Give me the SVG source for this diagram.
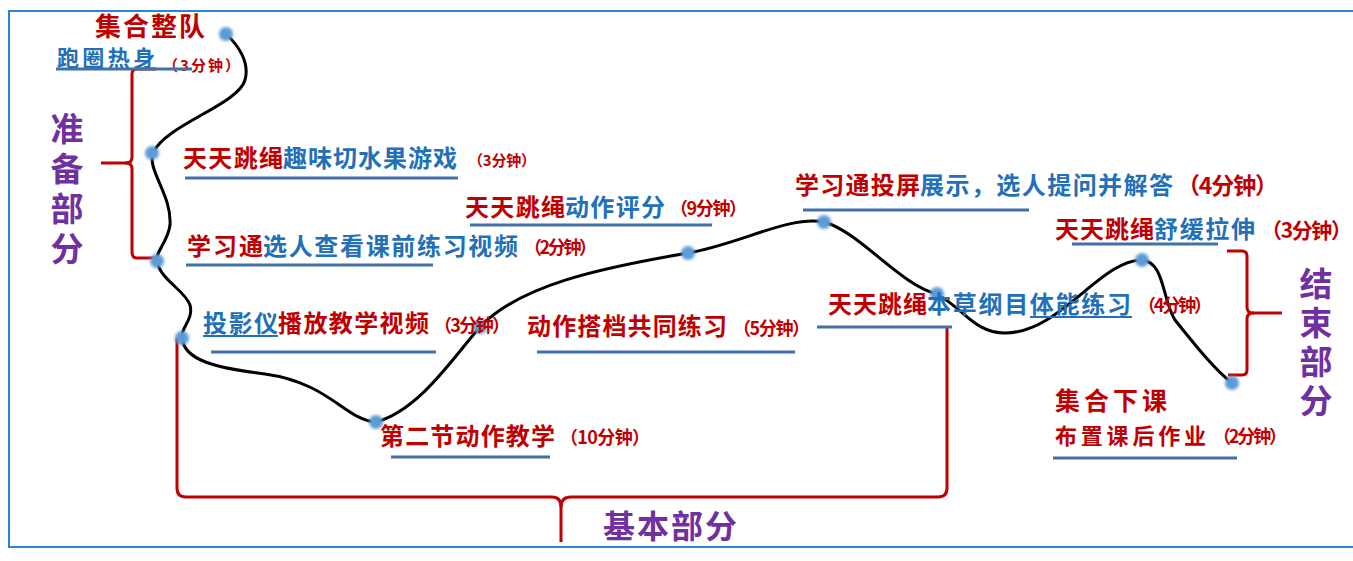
<svg xmlns="http://www.w3.org/2000/svg" width="1353" height="561" viewBox="0 0 1353 561">
<defs>
<style>
text{font-family:"Noto Sans CJK SC","Noto Sans",sans-serif;font-weight:bold;}
.r{fill:#C00000;}
.b{fill:#2170B8;}
.p{fill:#7030A0;}
.ul{stroke:#4270A8;stroke-width:3;fill:none;}
.tu{stroke:#2170B8;stroke-width:2;fill:none;}
.br{stroke:#C00000;stroke-width:3;fill:none;stroke-linejoin:round;}
.dot{fill:#5B9BD5;filter:url(#blur);}
</style>
<filter id="blur" x="-50%" y="-50%" width="200%" height="200%"><feGaussianBlur stdDeviation="1.6"/></filter>
</defs>
<rect width="1353" height="561" fill="#FFFFFF"/>
<path d="M1353,11 H9 V547 H1353" fill="none" stroke="#2A84D2" stroke-width="2"/>

<g id="connectors">
<path id="rope" d="M226,34 C238,45 250,62 245,80 C238,105 165,125 153,153 C147,170 172,195 170,225 C168,242 155,252 157,261 C160,280 185,290 190,305 C194,320 180,328 182,338 C184,360 215,368 265,374 C330,383 345,420 376,422 C420,410 455,355 480,327 C520,285 600,268 688,253 C740,244 790,215 824,222 C860,232 900,285 937,294 C965,310 975,333 1005,333 C1060,333 1100,260 1142,260 C1165,262 1162,300 1175,320 C1195,345 1215,370 1232,383" fill="none" stroke="#000" stroke-width="3"/>
<path class="br" d="M156,69 H137 Q132,69 132,74 V157 Q132,163 126,163 Q132,163 132,169 V252 Q132,258 137,258 H157"/>
<path class="br" d="M101,163 H128"/>
<path class="br" d="M177,338 V488 Q177,497 186,497 H552 Q561,497 561,507 V542"/>
<path class="br" d="M561,507 Q561,497 571,497 H938 Q947,497 947,488 V328"/>
<path class="br" d="M1227,251 H1242 Q1247,251 1247,256 V307 Q1247,313 1253,313 Q1247,313 1247,319 V370 Q1247,375 1242,375 H1228"/>
<path class="br" d="M1252,313 H1282"/>
</g>

<g id="dots">
<circle class="dot" cx="226" cy="34" r="7"/>
<circle class="dot" cx="152" cy="153" r="7"/>
<circle class="dot" cx="157" cy="261" r="7"/>
<circle class="dot" cx="182" cy="338" r="7"/>
<circle class="dot" cx="376" cy="422" r="7"/>
<circle class="dot" cx="480" cy="327" r="7"/>
<circle class="dot" cx="688" cy="253" r="7"/>
<circle class="dot" cx="824" cy="222" r="7"/>
<circle class="dot" cx="937" cy="294" r="7"/>
<circle class="dot" cx="1142" cy="260" r="7"/>
<circle class="dot" cx="1232" cy="383" r="7"/>
</g>

<g id="n1">
<text class="r" x="95" y="36" font-size="26" textLength="110" lengthAdjust="spacing">集合整队</text>
<text class="b" x="57" y="66" font-size="22" textLength="98" lengthAdjust="spacing">跑圈热身</text>
<text class="r" x="163" y="71" font-size="15" textLength="77" lengthAdjust="spacing">（3分钟）</text>
<path class="ul" d="M56,69 H192"/>
</g>

<g id="n2">
<text class="r" x="183" y="167" font-size="24" textLength="100" lengthAdjust="spacing">天天跳绳</text>
<text class="b" x="283" y="167" font-size="24" textLength="174" lengthAdjust="spacing">趣味切水果游戏</text>
<text class="r" x="468" y="166" font-size="15" textLength="68" lengthAdjust="spacing">（3分钟）</text>
<path class="ul" d="M185,178 H458"/>
</g>

<g id="n3">
<text class="r" x="187" y="255" font-size="24" textLength="76" lengthAdjust="spacing">学习通</text>
<text class="b" x="263" y="255" font-size="24" textLength="255" lengthAdjust="spacing">选人查看课前练习视频</text>
<text class="r" x="524" y="254" font-size="18" textLength="73" lengthAdjust="spacing">（2分钟）</text>
<path class="ul" d="M186,265 H433"/>
</g>

<g id="n4">
<text class="r" x="465" y="216" font-size="24" textLength="100" lengthAdjust="spacing">天天跳绳</text>
<text class="b" x="565" y="216" font-size="24" textLength="100" lengthAdjust="spacing">动作评分</text>
<text class="r" x="670" y="215" font-size="18" textLength="77" lengthAdjust="spacing">（9分钟）</text>
<path class="ul" d="M470,225 H712"/>
</g>

<g id="n5">
<text class="r" x="795" y="194" font-size="24" textLength="125" lengthAdjust="spacing">学习通投屏</text>
<text class="b" x="920" y="194" font-size="24" textLength="253" lengthAdjust="spacing">展示，选人提问并解答</text>
<text class="r" x="1177" y="194" font-size="23" textLength="101" lengthAdjust="spacing">（4分钟）</text>
<path class="ul" d="M803,210 H1029"/>
</g>

<g id="n6">
<text class="b" x="203" y="332" font-size="24" textLength="75" lengthAdjust="spacing">投影仪</text>
<path class="tu" d="M203,336 H278"/>
<text class="r" x="278" y="332" font-size="24" textLength="151" lengthAdjust="spacing">播放教学视频</text>
<text class="r" x="434" y="332" font-size="18" textLength="76" lengthAdjust="spacing">（3分钟）</text>
<path class="ul" d="M211,352 H436"/>
</g>

<g id="n7">
<text class="r" x="527" y="335" font-size="24" textLength="200" lengthAdjust="spacing">动作搭档共同练习</text>
<text class="r" x="733" y="335" font-size="18" textLength="77" lengthAdjust="spacing">（5分钟）</text>
<path class="ul" d="M537,352 H795"/>
</g>

<g id="n8">
<text class="r" x="380" y="445" font-size="24" textLength="175" lengthAdjust="spacing">第二节动作教学</text>
<text class="r" x="560" y="444" font-size="18" textLength="90" lengthAdjust="spacing">（10分钟）</text>
<path class="ul" d="M391,457 H550"/>
</g>

<g id="n9">
<text class="r" x="828" y="313" font-size="24" textLength="99" lengthAdjust="spacing">天天跳绳</text>
<text class="b" x="927" y="313" font-size="24" textLength="204" lengthAdjust="spacing">本草纲目体能练习</text>
<path class="tu" d="M1030,317 H1132"/>
<text class="r" x="1138" y="312" font-size="18" textLength="74" lengthAdjust="spacing">（4分钟）</text>
<path class="ul" d="M817,327 H952"/>
</g>

<g id="n10">
<text class="r" x="1055" y="238" font-size="24" textLength="99" lengthAdjust="spacing">天天跳绳</text>
<text class="b" x="1154" y="238" font-size="24" textLength="101" lengthAdjust="spacing">舒缓拉伸</text>
<text class="r" x="1261" y="238" font-size="21" textLength="91" lengthAdjust="spacing">（3分钟）</text>
<path class="ul" d="M1072,244 H1218"/>
</g>

<g id="n11">
<text class="r" x="1055" y="410" font-size="25" textLength="112" lengthAdjust="spacing">集合下课</text>
<text class="r" x="1055" y="444" font-size="22" textLength="151" lengthAdjust="spacing">布置课后作业</text>
<text class="r" x="1213" y="443" font-size="18" textLength="74" lengthAdjust="spacing">（2分钟）</text>
<path class="ul" d="M1053,458 H1237"/>
</g>

<g id="sections">
<text class="p" x="67" y="112" font-size="33" writing-mode="vertical-rl" letter-spacing="7">准备部分</text>
<text class="p" x="603" y="538" font-size="32" textLength="134" lengthAdjust="spacing">基本部分</text>
<text class="p" x="1316" y="267" font-size="33" writing-mode="vertical-rl" letter-spacing="6">结束部分</text>
</g>
</svg>
